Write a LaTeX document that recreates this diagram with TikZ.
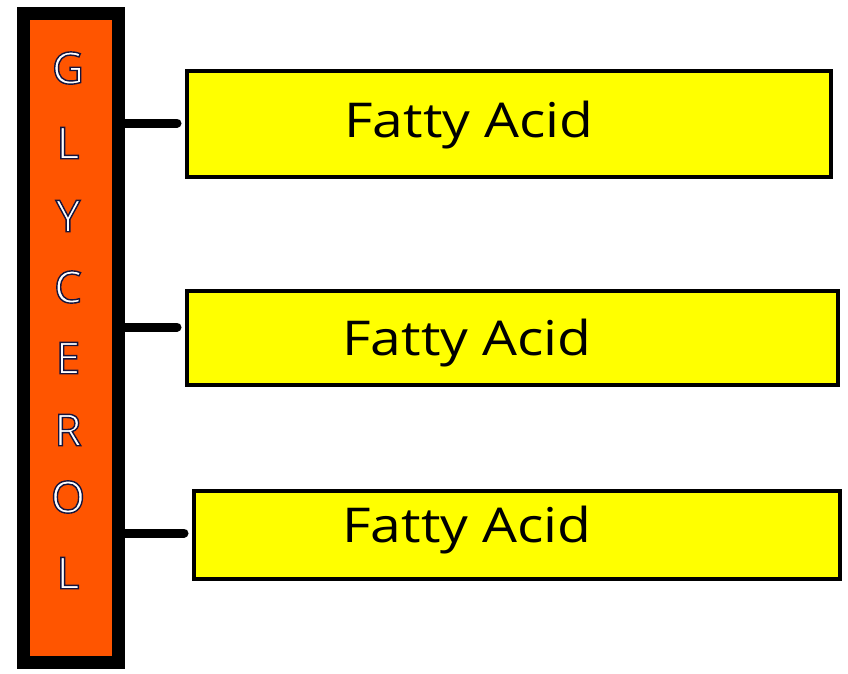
\documentclass[tikz,border=0pt]{standalone}
\usepackage{fontspec}
\setmainfont{Open Sans}
\definecolor{glyorange}{RGB}{255,85,0}
\definecolor{fayellow}{RGB}{255,255,0}
\newcommand{\glyl}[1]{\special{pdf:literal direct q 2 Tr 1.4 w 0.08 0.08 0.24 RG}#1\special{pdf:literal direct Q}}
\begin{document}
\begin{tikzpicture}[x=1pt,y=-1pt,
  glybox/.style={draw=black,line width=13pt,fill=glyorange},
  fabox/.style={draw=black,line width=4pt,fill=fayellow},
  falabel/.style={font=\fontsize{48}{48}\selectfont,text=black,xscale=1.15},
  glyletter/.style={font=\fontsize{44}{44}\selectfont,text=white,draw=none},
  link/.style={line width=9pt,line cap=round}]
\useasboundingbox (0,0) rectangle (848,673);
\path[glybox] (23,13.5) rectangle (118.5,662);
\node[glyletter] (g1) at (68,68) {\glyl{G}};
\node[glyletter] (g2) at (68,143) {\glyl{L}};
\node[glyletter] (g3) at (68,216) {\glyl{Y}};
\node[glyletter] (g4) at (68,287) {\glyl{C}};
\node[glyletter] (g5) at (68,358) {\glyl{E}};
\node[glyletter] (g6) at (68,430) {\glyl{R}};
\node[glyletter] (g7) at (68,497) {\glyl{O}};
\node[glyletter] (g8) at (68,573) {\glyl{L}};
\node[fabox,minimum width=644pt,minimum height=106pt,anchor=north west] (fa1) at (185,69) {};
\node[fabox,minimum width=651pt,minimum height=94pt,anchor=north west] (fa2) at (185,289) {};
\node[fabox,minimum width=646pt,minimum height=88pt,anchor=north west] (fa3) at (192,489) {};
\node[falabel] (t1) at (469,125) {Fatty Acid};
\node[falabel] (t2) at (467,343) {Fatty Acid};
\node[falabel] (t3) at (467,530) {Fatty Acid};
\coordinate (s1) at (125,123);
\coordinate (s2) at (125,327);
\coordinate (s3) at (125,533);
\draw[link] (s1) -- ([xshift=-8pt]fa1.west |- s1);
\draw[link] (s2) -- ([xshift=-8pt]fa2.west |- s2);
\draw[link] (s3) -- ([xshift=-8pt]fa3.west |- s3);
\end{tikzpicture}
\end{document}
